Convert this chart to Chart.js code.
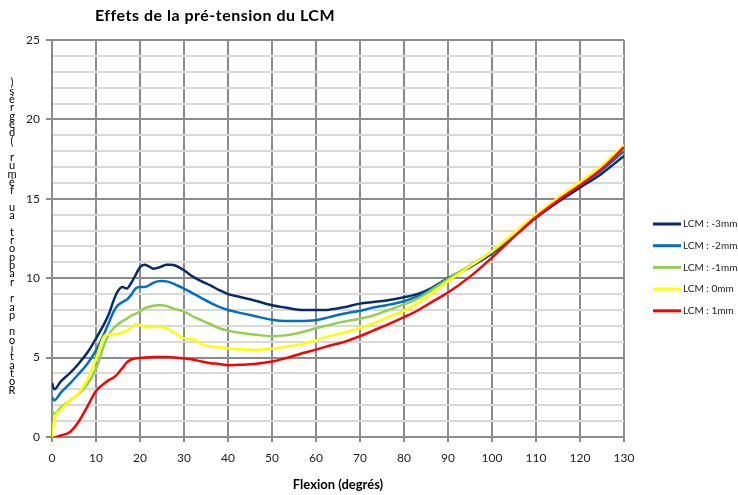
<!DOCTYPE html>
<html>
<head>
<meta charset="utf-8">
<script src="https://cdn.jsdelivr.net/npm/chart.js@4/dist/chart.umd.min.js"></script>
<style>
  html, body { margin: 0; padding: 0; background: #fff; }
  #wrap { width: 738px; height: 495px; }
</style>
</head>
<body>
<div id="wrap"><canvas id="chart" width="738" height="495"></canvas></div>
<script>
// Flexion angles (degrés) shared by every series
const flexion = [0, 0.5, 2, 4, 6, 8, 10, 12, 13, 14, 15, 16, 17, 18, 19, 20, 21, 22, 23, 24, 25, 26, 27, 28, 30, 32, 34, 36, 38, 40, 43, 46, 50, 53, 56, 60, 63, 66, 70, 73, 76, 80, 83, 86, 90, 95, 100, 105, 110, 115, 120, 125, 130];

// Rotation par rapport au fémur (degrés), one array per pre-tension
const lcmM3 = [3.4, 3.0, 3.5, 4.0, 4.6, 5.3, 6.2, 7.2, 7.8, 8.6, 9.2, 9.45, 9.35, 9.7, 10.2, 10.7, 10.85, 10.75, 10.6, 10.65, 10.75, 10.85, 10.85, 10.8, 10.5, 10.1, 9.8, 9.55, 9.25, 9.0, 8.8, 8.6, 8.3, 8.15, 8.02, 8.0, 8.02, 8.15, 8.4, 8.5, 8.6, 8.8, 9.0, 9.35, 10.0, 10.7, 11.55, 12.65, 13.8, 14.8, 15.7, 16.6, 17.7];
const lcmM2 = [2.5, 2.3, 2.8, 3.35, 3.95, 4.6, 5.45, 6.6, 7.25, 7.9, 8.3, 8.5, 8.65, 8.95, 9.35, 9.45, 9.45, 9.55, 9.7, 9.8, 9.82, 9.8, 9.72, 9.6, 9.35, 9.05, 8.75, 8.45, 8.2, 8.0, 7.8, 7.62, 7.38, 7.3, 7.3, 7.35, 7.55, 7.75, 7.95, 8.15, 8.3, 8.55, 8.85, 9.3, 10.0, 10.75, 11.6, 12.7, 13.85, 14.9, 15.85, 16.8, 18.0];
const lcmM1 = [1.7, 1.45, 1.85, 2.3, 2.7, 3.3, 4.3, 5.9, 6.5, 6.85, 7.1, 7.3, 7.45, 7.65, 7.75, 7.9, 8.1, 8.2, 8.27, 8.3, 8.3, 8.25, 8.15, 8.05, 7.9, 7.6, 7.35, 7.1, 6.85, 6.7, 6.55, 6.45, 6.35, 6.4, 6.55, 6.85, 7.05, 7.25, 7.45, 7.65, 7.95, 8.35, 8.7, 9.2, 9.95, 10.8, 11.7, 12.8, 13.95, 15.0, 16.0, 16.95, 18.2];
const lcm0 = [0.0, 1.1, 1.7, 2.3, 2.75, 3.6, 4.9, 6.4, 6.45, 6.45, 6.5, 6.6, 6.7, 6.9, 7.1, 7.05, 6.95, 6.9, 6.95, 6.95, 6.9, 6.85, 6.7, 6.55, 6.2, 6.15, 5.85, 5.7, 5.65, 5.58, 5.52, 5.48, 5.55, 5.68, 5.8, 6.1, 6.35, 6.55, 6.85, 7.15, 7.5, 7.95, 8.4, 8.95, 9.8, 10.75, 11.7, 12.85, 14.0, 15.05, 16.05, 17.1, 18.4];
const lcmP1 = [-0.1, -0.05, 0.1, 0.3, 0.95, 1.9, 2.9, 3.4, 3.6, 3.75, 4.0, 4.35, 4.7, 4.88, 4.95, 4.98, 5.0, 5.02, 5.03, 5.04, 5.04, 5.04, 5.03, 5.0, 4.95, 4.88, 4.75, 4.65, 4.6, 4.52, 4.55, 4.6, 4.75, 4.95, 5.2, 5.5, 5.75, 5.95, 6.35, 6.7, 7.05, 7.55, 7.95, 8.45, 9.1, 10.1, 11.3, 12.6, 13.85, 14.9, 15.85, 16.9, 18.25];

const seriesLabels = ['LCM : -3mm', 'LCM : -2mm', 'LCM : -1mm', 'LCM : 0mm', 'LCM : 1mm'];
const seriesValues = [lcmM3, lcmM2, lcmM1, lcm0, lcmP1];
const seriesColors = ['#0b2a6a', '#0070c0', '#92d050', '#ffff00', '#ff0000'];

const chartTitle = 'Effets de la pré-tension du LCM';
const yTitle = 'Rotation par rapport au fémur (degrés)';
const xTitle = 'Flexion (degrés)';

const FONT = 'Lato, "Open Sans", sans-serif';
const MAJOR = '#8c8c8c';
const MINOR = '#d9d9d9';

// Title, stacked y label and legend are painted by hand
const decor = {
  id: 'decor',
  afterDraw(chart) {
    const ctx = chart.ctx;
    ctx.save();
    ctx.fillStyle = '#000';
    ctx.textBaseline = 'middle';

    ctx.font = 'bold 16px ' + FONT;
    ctx.textAlign = 'center';
    ctx.letterSpacing = '0.5px';
    ctx.fillText(chartTitle, 215, 16);
    ctx.letterSpacing = '0px';

    // the y title comes out letter by letter, bottom to top
    ctx.font = '11px ' + FONT;
    Array.from(yTitle).forEach((ch, i) => {
      ctx.fillText(ch, 12, 390 - i * 8.3);
    });

    ctx.font = '10px ' + FONT;
    ctx.textAlign = 'left';
    chart.data.datasets.forEach((ds, i) => {
      const y = 224 + i * 21.7;
      ctx.strokeStyle = ds.borderColor;
      ctx.lineWidth = 3;
      ctx.beginPath();
      ctx.moveTo(653, y);
      ctx.lineTo(681, y);
      ctx.stroke();
      ctx.fillStyle = '#222';
      ctx.fillText(ds.label, 683, y);
    });
    ctx.restore();
  }
};

new Chart(document.getElementById('chart'), {
  type: 'line',
  data: {
    datasets: seriesLabels.map((label, i) => ({
      label,
      data: flexion.map((x, j) => ({ x, y: seriesValues[i][j] })),
      borderColor: seriesColors[i],
      backgroundColor: seriesColors[i],
      borderWidth: 2.5,
      pointRadius: 0,
      tension: 0.4,
      cubicInterpolationMode: 'monotone',
      order: seriesLabels.length - i
    }))
  },
  options: {
    responsive: false,
    animation: false,
    devicePixelRatio: 1,
    layout: { padding: { top: 40, right: 114, left: 0, bottom: 0 } },
    plugins: {
      legend: { display: false },
      title: { display: false },
      tooltip: { enabled: false }
    },
    scales: {
      x: {
        type: 'linear',
        min: 0,
        max: 130,
        ticks: {
          stepSize: 10,
          autoSkip: false,
          padding: 9,
          color: '#222',
          font: { family: FONT, size: 12 }
        },
        grid: { color: MAJOR, lineWidth: 2, tickLength: 5, tickColor: MAJOR },
        border: { color: MAJOR, width: 2 },
        title: {
          display: true,
          text: xTitle,
          color: '#000',
          font: { family: FONT, size: 13, weight: 'bold' },
          padding: { top: 0, bottom: 2 }
        },
        afterFit(scale) { scale.height = 58; }
      },
      y: {
        min: 0,
        max: 25,
        ticks: {
          stepSize: 1,
          autoSkip: false,
          padding: 6,
          color: '#222',
          font: { family: FONT, size: 12 },
          callback: v => (v % 5 === 0 ? v : '')
        },
        grid: {
          color: c => (c.tick && c.tick.value % 5 === 0 ? MAJOR : MINOR),
          lineWidth: 2,
          tickLength: 6,
          tickColor: c => (c.tick && c.tick.value % 5 === 0 ? MAJOR : 'rgba(0,0,0,0)')
        },
        border: { color: MAJOR, width: 2 },
        afterFit(scale) { scale.width = 52; }
      }
    }
  },
  plugins: [decor]
});
</script>
</body>
</html>
